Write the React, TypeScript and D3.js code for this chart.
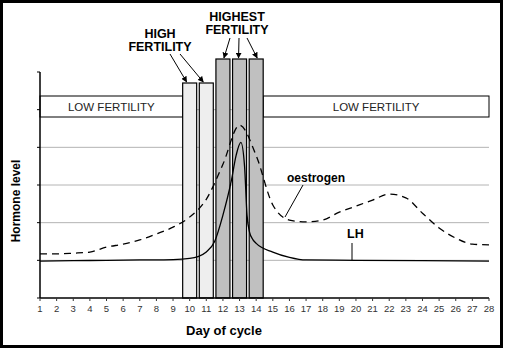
import React, { useEffect, useRef } from 'react';
import * as d3 from 'd3';

const WIDTH = 507;
const HEIGHT = 353;

// days on the x axis
const days = d3.range(1, 29);
const yTicks = [0, 1, 2, 3, 4, 5, 6];

// oestrogen, one reading per day
const oestrogen = [
  1.17, 1.17, 1.19, 1.22, 1.35, 1.43, 1.54, 1.7, 1.88, 2.15,
  2.62, 3.55, 4.59, 3.78, 2.47, 2.07, 2.02, 2.07, 2.28, 2.44,
  2.6, 2.76, 2.66, 2.25, 1.86, 1.59, 1.43, 1.41
];

// LH, read at uneven days round the surge
const lhDays = [1, 3, 5, 7, 9, 10, 10.5, 11, 11.5, 12, 12.5, 12.8, 13.08, 13.3, 13.45, 13.6, 13.8, 14, 15, 16, 17, 20, 24, 28];
const lhValues = [0.98, 0.99, 1.0, 1.01, 1.02, 1.05, 1.1, 1.22, 1.5, 2.2, 3.1, 3.8, 4.13, 3.5, 2.2, 1.75, 1.55, 1.45, 1.22, 1.08, 1.01, 1.0, 0.99, 0.98];

// fertility bars
const highDays = [10, 11];
const highestDays = [12, 13, 14];

const FONT = "'Liberation Sans', Arial, sans-serif";

function FertilityChart() {
  const ref = useRef<SVGSVGElement>(null);

  useEffect(() => {
    const svg = d3.select(ref.current);
    svg.selectAll('*').remove();

    const x = d3.scaleLinear().domain([1, 28]).range([40, 489]);
    const y = d3.scaleLinear().domain([0, 6]).range([298, 72]);
    const barW = 14;

    // frame
    svg.append('rect')
      .attr('x', 1.5).attr('y', 1.5)
      .attr('width', 500).attr('height', 345)
      .attr('fill', 'white').attr('stroke', 'black').attr('stroke-width', 3);

    // gridlines
    svg.append('g')
      .selectAll('line')
      .data(yTicks.filter(t => t > 0 && t < 6))
      .enter().append('line')
      .attr('x1', x(1)).attr('x2', x(28))
      .attr('y1', d => y(d)).attr('y2', d => y(d))
      .attr('stroke', '#b4b4b4').attr('stroke-width', 1);

    // low fertility boxes
    const lowY0 = 96;
    const lowY1 = 117;
    const lowBoxes = [
      { x0: x(1), x1: x(10) - barW / 2 },
      { x0: x(14) + barW / 2, x1: x(28) }
    ];
    const low = svg.append('g');
    low.selectAll('rect')
      .data(lowBoxes)
      .enter().append('rect')
      .attr('x', d => d.x0).attr('y', lowY0)
      .attr('width', d => d.x1 - d.x0).attr('height', lowY1 - lowY0)
      .attr('fill', 'white').attr('stroke', 'black').attr('stroke-width', 1);
    low.selectAll('text')
      .data(lowBoxes)
      .enter().append('text')
      .attr('x', d => (d.x0 + d.x1) / 2).attr('y', 110.5)
      .attr('text-anchor', 'middle')
      .attr('font-family', FONT).attr('font-size', 11.5)
      .attr('fill', '#222')
      .text('LOW FERTILITY');

    // fertility bars
    svg.append('g')
      .selectAll('rect')
      .data(highDays)
      .enter().append('rect')
      .attr('x', d => x(d) - barW / 2).attr('y', 83)
      .attr('width', barW).attr('height', y(0) - 83)
      .attr('fill', '#eeeeee').attr('stroke', 'black').attr('stroke-width', 1.2);
    svg.append('g')
      .selectAll('rect')
      .data(highestDays)
      .enter().append('rect')
      .attr('x', d => x(d) - barW / 2).attr('y', 59)
      .attr('width', barW).attr('height', y(0) - 59)
      .attr('fill', '#c0c0c0').attr('stroke', 'black').attr('stroke-width', 1.2);

    // curves
    const oLine = d3.line<number>()
      .x((_, i) => x(days[i]))
      .y(d => y(d))
      .curve(d3.curveMonotoneX);
    svg.append('path')
      .attr('d', oLine(oestrogen))
      .attr('fill', 'none').attr('stroke', 'black')
      .attr('stroke-width', 1.3).attr('stroke-dasharray', '7,5');

    const lhLine = d3.line<number>()
      .x((_, i) => x(lhDays[i]))
      .y(d => y(d))
      .curve(d3.curveMonotoneX);
    svg.append('path')
      .attr('d', lhLine(lhValues))
      .attr('fill', 'none').attr('stroke', 'black').attr('stroke-width', 1.3);

    // axes
    svg.append('line')
      .attr('x1', x(1)).attr('x2', x(1))
      .attr('y1', y(6)).attr('y2', y(0))
      .attr('stroke', 'black').attr('stroke-width', 1.5);
    svg.append('line')
      .attr('x1', x(1)).attr('x2', x(28))
      .attr('y1', y(0)).attr('y2', y(0))
      .attr('stroke', 'black').attr('stroke-width', 1.5);

    svg.append('g')
      .selectAll('line')
      .data(yTicks)
      .enter().append('line')
      .attr('x1', x(1) - 3).attr('x2', x(1))
      .attr('y1', d => y(d)).attr('y2', d => y(d))
      .attr('stroke', 'black');

    const xt = svg.append('g');
    xt.selectAll('line')
      .data(days)
      .enter().append('line')
      .attr('x1', d => x(d)).attr('x2', d => x(d))
      .attr('y1', y(0)).attr('y2', y(0) + 3)
      .attr('stroke', '#333');
    xt.selectAll('text')
      .data(days)
      .enter().append('text')
      .attr('x', d => x(d)).attr('y', y(0) + 14)
      .attr('text-anchor', 'middle')
      .attr('font-family', FONT).attr('font-size', 9.5)
      .attr('fill', '#333')
      .text(d => d);

    // axis titles
    svg.append('text')
      .attr('x', 224).attr('y', 335)
      .attr('text-anchor', 'middle')
      .attr('font-family', FONT).attr('font-size', 13).attr('font-weight', 'bold')
      .text('Day of cycle');
    svg.append('text')
      .attr('transform', 'translate(20,201) rotate(-90)')
      .attr('text-anchor', 'middle')
      .attr('font-family', FONT).attr('font-size', 12).attr('font-weight', 'bold')
      .text('Hormone level');

    // annotations
    const bold = (tx: number, ty: number, s: string) =>
      svg.append('text')
        .attr('x', tx).attr('y', ty)
        .attr('text-anchor', 'middle')
        .attr('font-family', FONT).attr('font-size', 12.5).attr('font-weight', 'bold')
        .text(s);
    bold(160, 38, 'HIGH');
    bold(160, 51, 'FERTILITY');
    bold(237, 21, 'HIGHEST');
    bold(237, 34, 'FERTILITY');

    svg.append('defs').append('marker')
      .attr('id', 'arr')
      .attr('viewBox', '0 0 10 10')
      .attr('refX', 9).attr('refY', 5)
      .attr('markerWidth', 6).attr('markerHeight', 6)
      .attr('orient', 'auto')
      .append('path').attr('d', 'M0,0 L10,5 L0,10 z').attr('fill', 'black');

    const arrows = [
      [170, 54, x(10) - 3, 82],
      [180, 54, x(11) - 3, 82],
      [230, 38, x(12) + 1, 58],
      [239, 38, x(13) - 1, 58],
      [247, 38, x(14) + 1, 58]
    ];
    svg.append('g')
      .selectAll('line')
      .data(arrows)
      .enter().append('line')
      .attr('x1', d => d[0]).attr('y1', d => d[1])
      .attr('x2', d => d[2]).attr('y2', d => d[3])
      .attr('stroke', 'black').attr('stroke-width', 1)
      .attr('marker-end', 'url(#arr)');

    svg.append('text')
      .attr('x', 287).attr('y', 182)
      .attr('font-family', FONT).attr('font-size', 12).attr('font-weight', 'bold')
      .text('oestrogen');
    svg.append('line')
      .attr('x1', 303).attr('y1', 185)
      .attr('x2', 285).attr('y2', 217)
      .attr('stroke', 'black');

    svg.append('text')
      .attr('x', 347).attr('y', 238)
      .attr('font-family', FONT).attr('font-size', 12.5).attr('font-weight', 'bold')
      .text('LH');
    svg.append('line')
      .attr('x1', 352).attr('y1', 243)
      .attr('x2', 352).attr('y2', y(1))
      .attr('stroke', 'black');
  }, []);

  return (
    <svg
      ref={ref}
      width={WIDTH}
      height={HEIGHT}
      style={{ position: 'absolute', left: 0, top: 0 }}
    />
  );
}

export default function App() {
  return <FertilityChart />;
}
